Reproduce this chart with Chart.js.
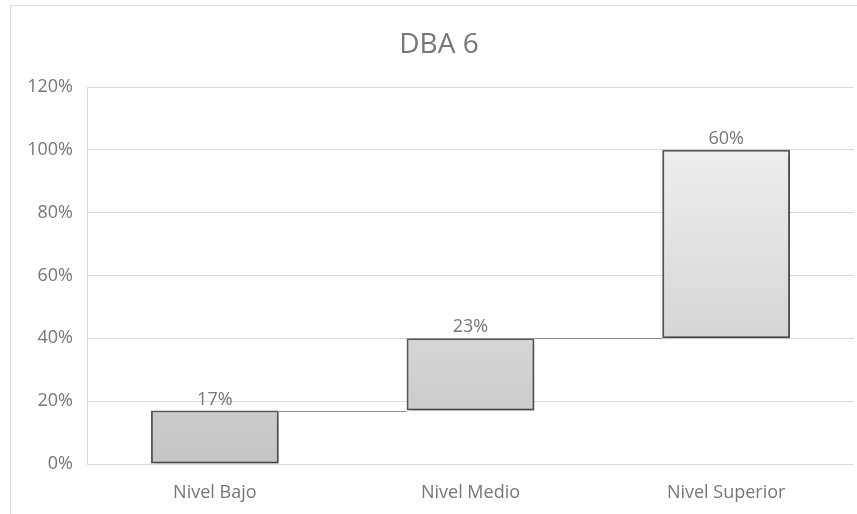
<!DOCTYPE html>
<html>
<head>
<meta charset="utf-8">
<script src="https://cdn.jsdelivr.net/npm/chart.js@4/dist/chart.umd.min.js"></script>
<style>
  html, body { margin: 0; padding: 0; background: #ffffff; }
  #wrap { position: relative; width: 857px; height: 514px; overflow: hidden; }
  #frame { position: absolute; left: 10px; top: 5px; width: 900px; height: 600px;
           border-left: 1px solid #d9d9d9; border-top: 1px solid #d9d9d9; }
  canvas { position: absolute; left: 0; top: 0; }
</style>
</head>
<body>
<div id="wrap">
  <div id="frame"></div>
  <canvas id="chart" width="857" height="514"></canvas>
</div>
<script>
// Waterfall: each level stacks on top of the previous ones
const chartTitle = 'DBA 6';
const categories = ['Nivel Bajo', 'Nivel Medio', 'Nivel Superior'];
const values = [17, 23, 60];
const yTickValues = [0, 20, 40, 60, 80, 100, 120];

// running start / end of each step
const starts = [];
const ends = [];
values.reduce((acc, v) => { starts.push(acc); ends.push(acc + v); return acc + v; }, 0);

const FONT = "'Open Sans', 'DejaVu Sans', sans-serif";
const TEXT = '#767676';

// title centred over the whole chart frame
const titlePlugin = {
  id: 'frameTitle',
  afterDraw(chart) {
    const c = chart.ctx;
    c.save();
    c.font = `28px ${FONT}`;
    c.fillStyle = TEXT;
    c.textAlign = 'center';
    c.textBaseline = 'alphabetic';
    c.fillText(chartTitle, 439, 53);
    c.restore();
  }
};

// thin connectors from the end of one step to the start of the next
const connectorPlugin = {
  id: 'connectors',
  beforeDatasetsDraw(chart) {
    const meta = chart.getDatasetMeta(0);
    const y = chart.scales.y;
    const c = chart.ctx;
    c.save();
    c.strokeStyle = '#8c8c8c';
    c.lineWidth = 1;
    for (let i = 0; i < meta.data.length - 1; i++) {
      const a = meta.data[i], b = meta.data[i + 1];
      const py = Math.round(y.getPixelForValue(ends[i])) + 0.5;
      c.beginPath();
      c.moveTo(a.x + a.width / 2, py);
      c.lineTo(b.x - b.width / 2, py);
      c.stroke();
    }
    c.restore();
  }
};

// soft drop shadow under the bars
const shadowPlugin = {
  id: 'barShadow',
  beforeDatasetDraw(chart) {
    const c = chart.ctx;
    c.shadowColor = 'rgba(0,0,0,0.28)';
    c.shadowBlur = 4;
    c.shadowOffsetX = 1;
    c.shadowOffsetY = 3;
  },
  afterDatasetDraw(chart) {
    const c = chart.ctx;
    c.shadowColor = 'rgba(0,0,0,0)';
    c.shadowBlur = 0;
    c.shadowOffsetX = 0;
    c.shadowOffsetY = 0;
  }
};

// value labels above each bar
const labelPlugin = {
  id: 'valueLabels',
  afterDatasetsDraw(chart) {
    const meta = chart.getDatasetMeta(0);
    const c = chart.ctx;
    c.save();
    c.font = `18px ${FONT}`;
    c.fillStyle = TEXT;
    c.textAlign = 'center';
    c.textBaseline = 'alphabetic';
    meta.data.forEach((bar, i) => {
      c.fillText(values[i] + '%', bar.x, bar.y - 6);
    });
    c.restore();
  }
};

new Chart(document.getElementById('chart'), {
  type: 'bar',
  data: {
    labels: categories,
    datasets: [{
      data: values.map((v, i) => [starts[i], ends[i]]),
      backgroundColor(ctx) {
        const chart = ctx.chart;
        if (!chart.chartArea) return '#d0d0d0';
        const y = chart.scales.y;
        const g = chart.ctx.createLinearGradient(0, y.getPixelForValue(0), 0, y.getPixelForValue(100));
        g.addColorStop(0, '#c5c5c5');
        g.addColorStop(1, '#eeeeee');
        return g;
      },
      borderColor: '#5a5a5a',
      borderWidth: 2,
      borderSkipped: false,
      barPercentage: 0.5,
      categoryPercentage: 1.0
    }]
  },
  options: {
    responsive: false,
    animation: false,
    layout: { padding: { top: 87, right: 3, left: 0, bottom: 0 } },
    plugins: {
      legend: { display: false },
      title: { display: false },
      tooltip: { enabled: false }
    },
    scales: {
      x: {
        grid: { display: false, drawTicks: false },
        border: { display: false },
        ticks: { color: TEXT, font: { family: FONT, size: 18 }, padding: 18 },
        afterFit(scale) { scale.height = 50; }
      },
      y: {
        min: 0,
        max: 120,
        afterBuildTicks(scale) { scale.ticks = yTickValues.map(v => ({ value: v })); },
        grid: { color: '#d9d9d9', lineWidth: 1, drawTicks: false },
        border: { display: true, color: '#d9d9d9' },
        ticks: {
          color: TEXT,
          font: { family: FONT, size: 18 },
          padding: 14,
          callback: v => v + '%'
        },
        afterFit(scale) { scale.width = 87; }
      }
    }
  },
  plugins: [titlePlugin, connectorPlugin, shadowPlugin, labelPlugin]
});
</script>
</body>
</html>
